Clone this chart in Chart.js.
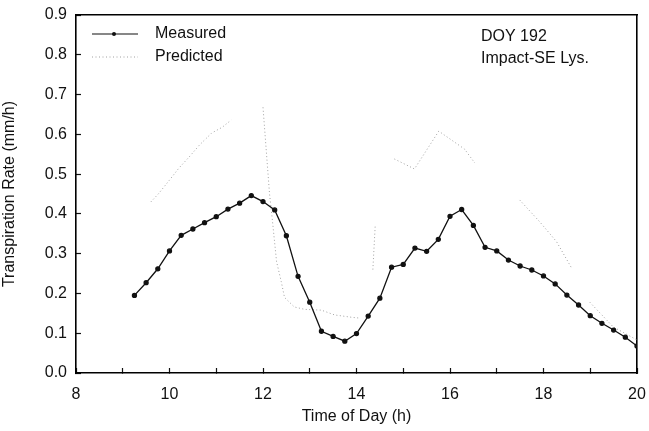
<!DOCTYPE html>
<html lang="en">
<head>
    <meta charset="UTF-8">
    <title>Transpiration Rate DOY 192</title>
    <script src="https://cdn.jsdelivr.net/npm/chart.js@4.4.1/dist/chart.umd.js"></script>
    <style>
        html, body { margin: 0; padding: 0; background: #fff; }
        .chart-container { width: 649px; height: 431px; }
    </style>
</head>
<body>
    <div class="chart-container">
        <canvas id="chart"></canvas>
    </div>

    <script>
        // measured transpiration, every 15 min
        const measuredTimes = [9.25, 9.5, 9.75, 10.0, 10.25, 10.5, 10.75, 11.0, 11.25, 11.5, 11.75,
            12.0, 12.25, 12.5, 12.75, 13.0, 13.25, 13.5, 13.75, 14.0, 14.25, 14.5, 14.75,
            15.0, 15.25, 15.5, 15.75, 16.0, 16.25, 16.5, 16.75, 17.0, 17.25, 17.5, 17.75,
            18.0, 18.25, 18.5, 18.75, 19.0, 19.25, 19.5, 19.75, 20.0];
        const measuredRates = [0.195, 0.227, 0.262, 0.307, 0.346, 0.362, 0.378, 0.393, 0.412, 0.427, 0.446,
            0.431, 0.41, 0.345, 0.243, 0.178, 0.105, 0.092, 0.08, 0.099, 0.143, 0.188, 0.266,
            0.273, 0.314, 0.306, 0.336, 0.394, 0.411, 0.371, 0.316, 0.307, 0.284, 0.269, 0.259,
            0.244, 0.224, 0.196, 0.171, 0.144, 0.125, 0.108, 0.09, 0.068];

        // predicted series has gaps (null)
        const predictedTimes = [9.6, 9.76, 10.0, 10.2, 10.42, 10.64, 10.9, 11.13, 11.32, 11.6,
            12.0, 12.14, 12.2, 12.29, 12.39, 12.46, 12.67, 12.89, 13.25, 13.53, 13.9, 14.07, 14.2,
            14.35, 14.4, 14.6,
            14.81, 15.24, 15.76, 16.31, 16.53, 17.0,
            17.49, 17.92, 18.28, 18.6, 18.8,
            18.99, 19.49, 20.0];
        const predictedRates = [0.43, 0.45, 0.485, 0.515, 0.543, 0.573, 0.603, 0.618, 0.636, null,
            0.668, 0.45, 0.385, 0.28, 0.23, 0.19, 0.166, 0.16, 0.158, 0.146, 0.14, 0.138, null,
            0.26, 0.37, null,
            0.538, 0.513, 0.608, 0.563, 0.528, null,
            0.435, 0.38, 0.33, 0.264, null,
            0.178, 0.116, 0.083];

        // hourly tick marks, labels every 2 h
        const xTickHours = [8, 9, 10, 11, 12, 13, 14, 15, 16, 17, 18, 19, 20];
        const xLabelHours = [8, 10, 12, 14, 16, 18, 20];
        const seriesNames = ['Measured', 'Predicted'];
        const noteLines = ['DOY 192', 'Impact-SE Lys.'];

        const FONT = '"Liberation Sans", Arial, sans-serif';
        const INK = '#111';
        const PRED = '#a0a0a0';

        function toPoints(xs, ys) {
            return xs.map((x, i) => ({ x: x, y: ys[i] }));
        }

        // legend and note text inside the plot
        const decor = {
            id: 'decor',
            afterDraw(chart) {
                const ctx = chart.ctx;
                ctx.save();
                ctx.setLineDash([]);
                ctx.strokeStyle = INK;
                ctx.lineWidth = 1.2;
                ctx.beginPath();
                ctx.moveTo(92, 34);
                ctx.lineTo(138, 34);
                ctx.stroke();
                ctx.fillStyle = INK;
                ctx.beginPath();
                ctx.arc(114, 34, 2, 0, Math.PI * 2);
                ctx.fill();

                ctx.strokeStyle = PRED;
                ctx.lineWidth = 1;
                ctx.setLineDash([1, 2.5]);
                ctx.beginPath();
                ctx.moveTo(92, 57);
                ctx.lineTo(138, 57);
                ctx.stroke();
                ctx.setLineDash([]);

                ctx.fillStyle = INK;
                ctx.font = '16px ' + FONT;
                ctx.textBaseline = 'middle';
                ctx.textAlign = 'left';
                ctx.fillText(seriesNames[0], 155, 34);
                ctx.fillText(seriesNames[1], 155, 57);
                ctx.fillText(noteLines[0], 481, 37);
                ctx.fillText(noteLines[1], 481, 59);
                ctx.restore();
            }
        };

        const inwardGrid = {
            display: true,
            drawOnChartArea: false,
            drawTicks: true,
            tickLength: -5,
            tickColor: INK,
            tickWidth: 1.2
        };
        const frameBorder = { display: true, color: '#000', width: 1.6 };

        new Chart(document.getElementById('chart'), {
            type: 'line',
            data: {
                datasets: [
                    {
                        label: seriesNames[0],
                        data: toPoints(measuredTimes, measuredRates),
                        borderColor: INK,
                        backgroundColor: INK,
                        borderWidth: 1.3,
                        pointRadius: 2,
                        pointHoverRadius: 2,
                        tension: 0
                    },
                    {
                        label: seriesNames[1],
                        data: toPoints(predictedTimes, predictedRates),
                        borderColor: PRED,
                        borderWidth: 1,
                        borderDash: [1, 2.5],
                        pointRadius: 0,
                        spanGaps: false,
                        tension: 0
                    }
                ]
            },
            options: {
                responsive: true,
                maintainAspectRatio: false,
                animation: false,
                layout: { padding: { left: 0, top: 15, right: 12, bottom: 0 } },
                plugins: {
                    legend: { display: false },
                    tooltip: { enabled: false }
                },
                scales: {
                    x: {
                        type: 'linear',
                        min: 8,
                        max: 20,
                        afterBuildTicks: s => { s.ticks = xTickHours.map(v => ({ value: v })); },
                        afterFit: s => {
                            s.height = 58;
                            s.paddingLeft = 0;
                            s.paddingRight = 0;
                        },
                        grid: inwardGrid,
                        border: frameBorder,
                        ticks: {
                            color: INK,
                            padding: 17,
                            autoSkip: false,
                            maxRotation: 0,
                            font: { family: FONT, size: 16 },
                            callback: v => xLabelHours.includes(v) ? String(v) : ''
                        },
                        title: {
                            display: true,
                            text: 'Time of Day (h)',
                            color: INK,
                            font: { family: FONT, size: 16 },
                            padding: { top: 0, bottom: 5 }
                        }
                    },
                    y: {
                        min: 0,
                        max: 0.9,
                        afterFit: s => {
                            s.width = 76;
                            s.paddingTop = 0;
                            s.paddingBottom = 0;
                        },
                        grid: inwardGrid,
                        border: frameBorder,
                        ticks: {
                            stepSize: 0.1,
                            color: INK,
                            padding: 14,
                            font: { family: FONT, size: 16 },
                            callback: v => Number(v).toFixed(1)
                        },
                        title: {
                            display: true,
                            text: 'Transpiration Rate (mm/h)',
                            color: INK,
                            font: { family: FONT, size: 16 },
                            padding: { top: 0, bottom: 14 }
                        }
                    },
                    xTop: {
                        type: 'linear',
                        position: 'top',
                        min: 8,
                        max: 20,
                        afterFit: s => { s.height = 0; s.paddingLeft = 0; s.paddingRight = 0; },
                        grid: { display: false },
                        border: frameBorder,
                        ticks: { display: false }
                    },
                    yRight: {
                        type: 'linear',
                        position: 'right',
                        min: 0,
                        max: 0.9,
                        afterFit: s => { s.width = 0; s.paddingTop = 0; s.paddingBottom = 0; },
                        grid: { display: false },
                        border: frameBorder,
                        ticks: { display: false }
                    }
                }
            },
            plugins: [decor]
        });
    </script>
</body>
</html>
